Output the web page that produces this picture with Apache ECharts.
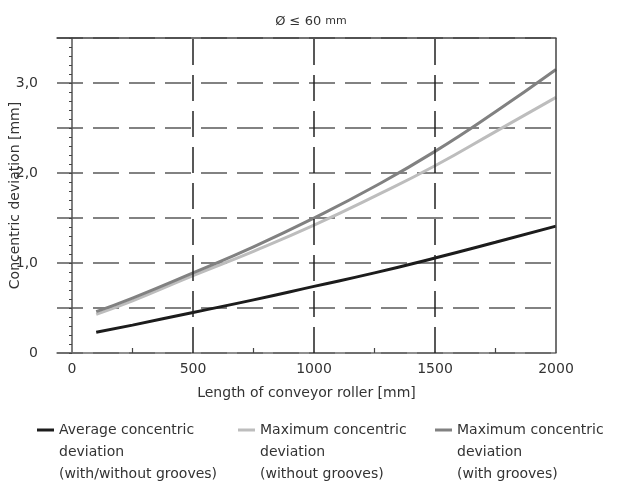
<!DOCTYPE html>
<html>
<head>
<meta charset="utf-8">
<script src="https://cdn.jsdelivr.net/npm/echarts@6/dist/echarts.min.js"></script>
<style>
html, body { margin: 0; padding: 0; background: #fff; }
#chart { width: 622px; height: 484px; }
</style>
</head>
<body>
<div id="chart"></div>
<script>
// values (roller length in mm -> deviation in mm)
const lengths = [100, 250, 500, 750, 1000, 1250, 1500, 1750, 2000]
const averageDeviation = [0.23, 0.31, 0.45, 0.59, 0.74, 0.89, 1.055, 1.23, 1.41]
const maxWithoutGrooves = [0.43, 0.58, 0.86, 1.13, 1.42, 1.74, 2.08, 2.46, 2.84]
const maxWithGrooves = [0.46, 0.61, 0.89, 1.18, 1.50, 1.85, 2.24, 2.68, 3.15]
const xLabels = [0, 500, 1000, 1500, 2000]
const xSmallTicks = [250, 750, 1250, 1750]
const xGridLines = [500, 1000, 1500]
const seriesNames = [
  'Average concentric\ndeviation\n(with/without grooves)',
  'Maximum concentric\ndeviation\n(without grooves)',
  'Maximum concentric\ndeviation\n(with grooves)'
]
const seriesColors = ['#1c1c1c', '#bdbdbd', '#818181']

const FONT = 'DejaVu Sans'
const X_MIN = -62
const X_MAX = 2000
const Y_MAX = 3.5

const toPairs = values => lengths.map((x, i) => [x, values[i]])

// two blank lines in front so the first text line sits level with the icon
const legendFor = (i, left) => ({
  data: [seriesNames[i]],
  left: left,
  top: 375,
  padding: 0,
  icon: 'rect',
  itemWidth: 17,
  itemHeight: 3,
  formatter: name => '\n\n' + name,
  textStyle: {
    fontFamily: FONT,
    fontSize: 14,
    color: '#333',
    lineHeight: 22
  }
})

const lineSeries = (i, values, z) => ({
  name: seriesNames[i],
  type: 'line',
  smooth: true,
  symbol: 'none',
  data: toPairs(values),
  itemStyle: { color: seriesColors[i] },
  lineStyle: { color: seriesColors[i], width: 3 },
  z: z
})

const chart = echarts.init(document.getElementById('chart'))
chart.setOption({
  animation: false,
  title: {
    text: '{a|Ø ≤ 60 }{b|mm}',
    left: 'center',
    top: 10,
    textStyle: {
      fontWeight: 'normal',
      rich: {
        a: { fontFamily: FONT, fontSize: 13, fontWeight: 'normal', color: '#333' },
        b: { fontFamily: FONT, fontSize: 11, fontWeight: 'normal', color: '#333' }
      }
    }
  },
  legend: [legendFor(0, 37), legendFor(1, 238), legendFor(2, 435)],
  grid: { left: 57, right: 66, top: 38, bottom: 131, outerBoundsMode: 'none', containLabel: false },
  xAxis: [
    {
      type: 'value',
      min: X_MIN,
      max: X_MAX,
      name: 'Length of conveyor roller [mm]',
      nameLocation: 'middle',
      nameGap: 33,
      nameTextStyle: { fontFamily: FONT, fontSize: 14, color: '#333' },
      axisLine: { show: true, lineStyle: { color: '#6b6b6b', width: 1.5 } },
      axisTick: { show: true, inside: true, length: 5, customValues: xSmallTicks, lineStyle: { color: '#444', width: 1.2 } },
      axisLabel: { customValues: xLabels, margin: 9, fontFamily: FONT, fontSize: 14, color: '#333', formatter: v => String(v) },
      splitLine: { show: false }
    },
    {
      // only here for the top border line
      type: 'value',
      position: 'top',
      min: X_MIN,
      max: X_MAX,
      axisLine: { show: true, onZero: false, lineStyle: { color: '#444', width: 1.5 } },
      axisTick: { show: false },
      axisLabel: { show: false },
      splitLine: { show: false }
    }
  ],
  yAxis: [
    {
      type: 'value',
      min: 0,
      max: Y_MAX,
      interval: 0.5,
      name: 'Concentric deviation [mm]',
      nameLocation: 'middle',
      nameGap: 35,
      nameMoveOverlap: false,
      nameTextStyle: { fontFamily: FONT, fontSize: 14, color: '#333' },
      axisLine: { show: true, onZero: true, lineStyle: { color: '#555', width: 1.5 } },
      axisTick: { show: true, length: 3, lineStyle: { color: '#444' } },
      minorTick: { show: true, splitNumber: 5, length: 3, lineStyle: { color: '#444', width: 1 } },
      axisLabel: {
        margin: 19,
        fontFamily: FONT,
        fontSize: 14,
        color: '#333',
        formatter: v => (v % 1 === 0 ? (v === 0 ? '0' : v.toFixed(1).replace('.', ',')) : '')
      },
      splitLine: { show: true, lineStyle: { color: '#5a5a5a', width: 1.5, type: [26, 10] } }
    },
    {
      // second copy of the scale, ticks pointing right
      type: 'value',
      min: 0,
      max: Y_MAX,
      interval: 0.5,
      axisLine: { show: false, onZero: true, onZeroAxisIndex: 1 },
      axisTick: { show: true, inside: true, length: 3, lineStyle: { color: '#444' } },
      minorTick: { show: true, splitNumber: 5, length: 3, lineStyle: { color: '#444', width: 1 } },
      axisLabel: { show: false },
      splitLine: { show: false }
    }
  ],
  series: [
    {
      name: 'grid',
      type: 'line',
      data: [],
      silent: true,
      markLine: {
        silent: true,
        symbol: 'none',
        label: { show: false },
        data: xGridLines.map(x => ({ xAxis: x, lineStyle: { color: '#222', width: 1.5, type: [26, 10] } }))
          .concat([{ xAxis: X_MAX, lineStyle: { color: '#444', width: 1.5, type: 'solid' } }])
      }
    },
    lineSeries(0, averageDeviation, 3),
    lineSeries(1, maxWithoutGrooves, 3),
    lineSeries(2, maxWithGrooves, 4)
  ]
})
</script>
</body>
</html>
